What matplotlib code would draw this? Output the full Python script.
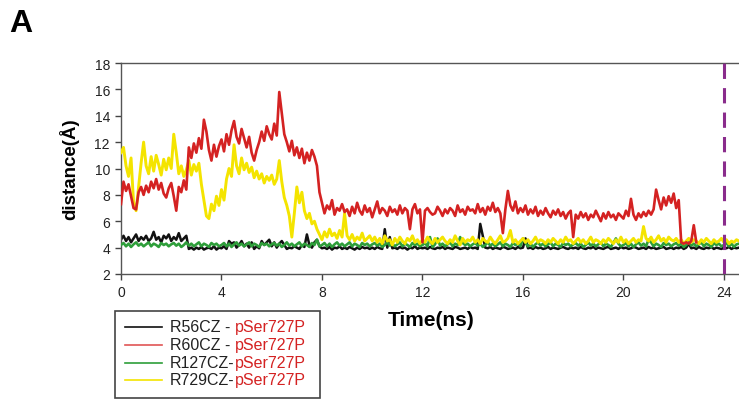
import numpy as np
import matplotlib
matplotlib.use("Agg")
import matplotlib.pyplot as plt
from matplotlib.lines import Line2D
from matplotlib.patches import Rectangle

plt.rcParams['font.family'] = ['Liberation Sans', 'DejaVu Sans']

# ---------------- data (distance in Angstrom, sampled every 0.1 ns) ----------------
time_step = 0.1

red_values = [
    7.3, 9.0, 8.3, 8.8, 7.9, 7.0, 6.9, 8.2, 8.6, 8.0,
    8.7, 8.2, 9.0, 8.5, 9.2, 8.4, 8.9, 8.1, 7.8, 8.5,
    8.9, 7.9, 6.8, 8.6, 8.2, 9.1, 8.4, 11.6, 10.8, 11.9,
    11.2, 12.3, 11.5, 13.7, 12.8, 11.4, 10.6, 11.8, 10.9, 11.7,
    12.2, 11.3, 12.6, 11.8, 12.9, 13.6, 12.4, 11.9, 13.0, 12.3,
    11.6, 12.4, 11.2, 10.6, 11.4, 12.0, 12.8, 12.1, 13.2, 12.6,
    12.2, 13.4, 12.5, 15.8, 14.2, 12.6, 12.0, 11.3, 12.1, 11.0,
    11.6, 10.8, 11.5, 10.4, 11.2, 10.6, 11.4, 10.9, 10.2, 8.2,
    7.4, 6.6, 7.2, 6.9, 7.6, 6.5, 7.0, 6.8, 7.3, 6.7,
    6.9, 6.4, 7.1, 6.6, 7.4, 6.8, 6.5, 7.2, 6.7, 7.0,
    6.3, 6.9, 7.5, 6.6, 7.0, 6.8, 6.4, 7.1, 6.7, 6.9,
    6.5, 7.2, 6.6, 7.0, 6.8, 5.4, 6.9, 7.3, 6.6, 6.9,
    4.4, 6.8, 7.0, 6.7, 6.5, 6.6, 7.1, 6.8, 6.4, 6.9,
    6.6, 7.0, 6.8, 6.4, 7.2, 6.7, 6.9, 6.5, 7.1, 6.8,
    6.9, 6.6, 7.3, 6.7, 7.0, 6.5, 7.1, 6.8, 7.4, 6.7,
    7.0, 6.6, 5.1, 6.9, 8.3, 7.2, 6.8, 7.5, 6.6, 7.0,
    6.7, 7.2, 6.5, 6.9, 6.6, 7.1, 6.4, 6.8, 6.5, 7.0,
    6.6, 6.3, 6.8, 6.5, 6.9, 6.4, 6.7, 6.2, 6.6, 6.8,
    4.8, 6.5, 6.2, 6.7, 6.3, 6.6, 6.1, 6.5, 6.3, 6.8,
    6.4, 6.0, 6.6, 6.2, 6.7, 6.3, 6.5, 6.1, 6.6, 6.4,
    6.2, 6.8, 6.4, 7.7, 6.5, 6.1, 6.6, 6.3, 6.7, 6.4,
    6.8, 6.5, 6.9, 8.4, 7.6, 6.9, 7.8, 7.2, 7.9, 7.4,
    8.1, 7.0, 7.6, 4.4, 4.3, 4.4, 4.3, 4.5, 5.7, 4.4,
]

yellow_values = [
    11.2, 11.6, 10.2, 9.4, 10.8, 7.4, 6.8, 8.6, 10.4, 12.0,
    10.2, 9.6, 10.9, 9.8, 11.0, 10.3, 9.5, 10.7, 9.9, 10.8,
    10.0, 12.6, 11.2, 9.6, 10.2, 9.4, 9.9, 10.6, 9.5, 10.3,
    9.8, 10.4, 8.8, 7.6, 6.4, 6.2, 7.3, 6.8, 7.9, 7.2,
    8.4, 7.6, 9.2, 10.0, 9.4, 11.8, 10.2, 9.6, 10.8, 9.9,
    10.4, 9.7, 10.1, 9.3, 9.8, 9.2, 9.6, 8.9, 9.4, 9.1,
    9.5, 8.8, 9.2, 10.6, 9.0, 7.8, 7.2, 6.4, 4.8, 6.6,
    8.6, 7.4, 8.2, 6.8, 6.2, 6.6, 5.8, 6.0, 5.4, 5.0,
    4.6, 5.2, 4.8, 5.4, 4.9, 5.1, 4.7, 5.3, 4.8, 6.6,
    4.9, 4.6, 5.0, 4.5, 4.8, 4.6, 5.1, 4.5, 4.7, 4.9,
    4.5, 4.8, 4.4, 4.7, 4.3, 4.9, 4.5, 4.6, 4.2, 4.7,
    4.4, 4.8, 4.5, 4.3, 4.7, 4.5, 4.9, 4.4, 4.6, 4.3,
    4.6, 4.4, 4.8, 4.5, 4.3, 4.7, 4.4, 4.6, 4.8, 4.5,
    4.3, 4.6, 4.4, 4.9, 4.5, 4.2, 4.7, 4.4, 4.6, 4.5,
    4.8, 4.4, 4.6, 4.3, 4.7, 4.5, 4.4, 4.8, 4.5, 4.3,
    4.6, 4.9, 4.4, 4.5, 4.7, 5.3, 4.4, 4.6, 4.3, 4.5,
    4.7, 4.4, 4.6, 4.3, 4.5, 4.8, 4.4, 4.6, 4.5, 4.3,
    4.6, 4.4, 4.7, 4.5, 4.3, 4.6, 4.4, 4.8, 4.5, 4.6,
    4.3, 4.5, 4.7, 4.4, 4.6, 4.3, 4.5, 4.8, 4.4, 4.6,
    4.5, 4.3, 4.6, 4.4, 4.7, 4.5, 4.3, 4.6, 4.4, 4.8,
    4.4, 4.6, 4.3, 4.5, 4.7, 4.4, 4.6, 4.5, 5.6, 4.7,
    4.5, 4.8, 4.4, 4.6, 4.9, 4.5, 4.7, 4.4, 4.8, 4.6,
    4.5, 4.7, 4.4, 4.6, 4.3, 4.5, 4.7, 4.4, 4.6, 4.5,
    4.3, 4.6, 4.4, 4.7, 4.5, 4.3, 4.6, 4.4, 4.5, 4.7,
    4.4, 4.6, 4.3, 4.5, 4.4, 4.6, 4.5,
]

black_values = [
    4.6, 4.9, 4.5, 4.8, 4.4, 4.7, 5.0, 4.5, 4.8, 4.6,
    4.9, 4.5, 4.7, 5.2, 4.6, 4.8, 4.4, 4.9, 4.7, 5.0,
    4.5, 4.8, 4.6, 5.1, 4.5, 4.7, 4.9, 3.9, 4.0, 3.85,
    4.0, 3.9, 4.05, 3.85, 3.95, 4.0, 3.9, 4.1, 3.85, 4.0,
    3.95, 4.1, 3.9, 4.5, 4.3, 4.4, 4.0, 4.2, 4.5, 4.1,
    4.3, 4.0, 4.4, 3.9, 4.1, 3.95, 4.5, 4.2, 4.4, 4.6,
    4.1, 4.4, 4.0, 4.3, 4.5, 4.2, 3.9, 4.0, 3.95, 4.1,
    4.0, 3.9, 4.2, 4.05, 5.0, 4.2, 4.0, 4.4, 4.6, 4.1,
    3.95, 4.0, 3.9, 4.05, 3.85, 4.0, 3.95, 4.1, 3.9, 4.0,
    3.9, 4.05, 3.95, 3.85, 4.0, 3.9, 4.05, 3.95, 4.0, 3.9,
    4.0, 3.9, 4.05, 3.95, 3.9, 5.4, 4.0, 4.8, 3.95, 4.0,
    3.9, 4.05, 3.95, 4.0, 3.85, 4.0, 3.95, 4.1, 3.9, 4.0,
    3.95, 4.0, 3.9, 4.05, 3.95, 3.9, 4.0, 3.95, 4.05, 3.9,
    4.0, 3.95, 3.9, 4.05, 4.0, 3.9, 3.95, 4.0, 3.9, 4.05,
    3.95, 4.0, 3.9, 5.8, 4.9, 4.0, 3.95, 4.05, 3.9, 4.0,
    3.95, 3.9, 4.05, 4.0, 3.9, 3.95, 4.0, 3.9, 4.05, 3.95,
    4.0, 4.7, 3.95, 4.0, 3.9, 4.05, 3.95, 4.0, 3.9, 3.95,
    4.05, 3.9, 4.0, 3.95, 3.9, 4.0, 4.05, 3.95, 3.9, 4.0,
    3.95, 4.0, 3.9, 4.05, 3.95, 3.9, 4.0, 3.95, 4.05, 3.9,
    4.0, 3.95, 3.9, 4.0, 4.05, 3.9, 3.95, 4.0, 3.9, 4.05,
    3.95, 4.0, 3.9, 3.95, 4.05, 4.0, 3.9, 3.95, 4.0, 3.9,
    4.05, 3.95, 4.0, 3.9, 3.95, 4.0, 4.05, 3.9, 3.95, 4.0,
    3.9, 4.0, 3.95, 4.05, 3.9, 4.0, 4.3, 3.95, 4.0, 3.9,
    4.05, 3.95, 3.9, 4.0, 3.95, 4.05, 3.9, 4.0, 3.95, 3.9,
    4.0, 3.95, 4.05, 3.9, 4.0, 3.95, 4.0,
]

green_values = [
    4.2, 4.35, 4.1, 4.3, 4.05, 4.25, 4.4, 4.15, 4.3, 4.1,
    4.25, 4.4, 4.1, 4.3, 4.2, 4.05, 4.35, 4.2, 4.3, 4.1,
    4.25, 4.35, 4.15, 4.3, 4.05, 4.2, 4.4, 4.15, 4.3, 4.1,
    4.25, 4.4, 4.1, 4.3, 4.2, 4.05, 4.35, 4.2, 4.3, 4.1,
    4.2, 4.35, 4.1, 4.3, 4.05, 4.25, 4.4, 4.15, 4.3, 4.1,
    4.25, 4.4, 4.1, 4.3, 4.2, 4.05, 4.35, 4.2, 4.3, 4.1,
    4.25, 4.35, 4.15, 4.3, 4.05, 4.2, 4.4, 4.15, 4.3, 4.1,
    4.25, 4.4, 4.1, 4.3, 4.2, 4.05, 4.35, 4.2, 4.6, 4.1,
    4.2, 4.35, 4.1, 4.3, 4.05, 4.25, 4.4, 4.15, 4.3, 4.1,
    4.25, 4.4, 4.1, 4.3, 4.2, 4.05, 4.35, 4.2, 4.3, 4.1,
    4.25, 4.35, 4.15, 4.3, 4.05, 4.2, 4.4, 4.15, 4.3, 4.1,
    4.25, 4.4, 4.1, 4.3, 4.2, 4.05, 4.35, 4.2, 4.3, 4.1,
    4.2, 4.35, 4.1, 4.8, 4.05, 4.25, 4.7, 4.15, 4.3, 4.1,
    4.25, 4.4, 4.1, 4.3, 4.2, 4.8, 4.35, 4.2, 4.3, 4.1,
    4.25, 4.35, 4.15, 4.3, 4.05, 4.2, 4.4, 4.15, 4.3, 4.1,
    4.25, 4.4, 4.1, 4.3, 4.2, 4.05, 4.35, 4.2, 4.3, 4.1,
    4.7, 4.35, 4.1, 4.3, 4.05, 4.25, 4.4, 4.15, 4.3, 4.1,
    4.25, 4.4, 4.1, 4.3, 4.2, 4.05, 4.35, 4.2, 4.3, 4.1,
    4.25, 4.35, 4.15, 4.3, 4.05, 4.2, 4.4, 4.15, 4.3, 4.1,
    4.25, 4.4, 4.1, 4.3, 4.2, 4.05, 4.35, 4.7, 4.3, 4.1,
    4.2, 4.35, 4.1, 4.3, 4.05, 4.25, 4.4, 4.15, 4.3, 4.1,
    4.6, 4.4, 4.1, 4.3, 4.2, 4.05, 4.35, 4.2, 4.3, 4.1,
    4.25, 4.35, 4.15, 4.3, 4.05, 4.2, 4.4, 4.15, 4.3, 4.1,
    4.25, 4.4, 4.1, 4.3, 4.2, 4.05, 4.35, 4.2, 4.3, 4.1,
    4.2, 4.35, 4.1, 4.3, 4.05, 4.25, 4.3,
]

series_black = ["R56CZ -", " pSer727P"]
series_red = ["R60CZ -", " pSer727P"]
series_green = ["R127CZ-", "pSer727P"]
series_yellow = ["R729CZ-", "pSer727P"]

x_ticks = [0, 4, 8, 12, 16, 20, 24]
y_ticks = [2, 4, 6, 8, 10, 12, 14, 16, 18]
marker_time = 24

# ---------------- figure ----------------
W, H = 739, 402
fig = plt.figure(figsize=(W / 100, H / 100), dpi=100)
fig.patch.set_facecolor('white')

ax_left, ax_right, ax_top, ax_bottom = 121, 739, 64, 275
ax = fig.add_axes([ax_left / W, 1 - ax_bottom / H,
                   (ax_right - ax_left) / W, (ax_bottom - ax_top) / H])

def times(vals):
    return np.arange(len(vals)) * time_step

c_black = '#111111'
c_green = '#2e9e3a'
c_yellow = '#f4e400'
c_red = '#d42222'

ax.plot(times(black_values), black_values, color=c_black, lw=1.8, zorder=2)
ax.plot(times(green_values), green_values, color=c_green, lw=1.9, zorder=3)
ax.plot(times(yellow_values), yellow_values, color=c_yellow, lw=2.1, zorder=4)
ax.plot(times(red_values), red_values, color=c_red, lw=1.9, zorder=5)

ax.axvline(marker_time, color='#8a2c8c', lw=2.2, dashes=(5, 3), zorder=6)

ax.set_xlim(0, 24.6)
ax.set_ylim(2, 18)
ax.set_xticks(x_ticks)
ax.set_yticks(y_ticks)
ax.tick_params(direction='out', length=4, width=1, colors='#444444',
               labelsize=10, labelcolor='#222222', pad=4)
for s in ['left', 'bottom', 'top']:
    ax.spines[s].set_color('#555555')
    ax.spines[s].set_linewidth(1.0)
ax.spines['right'].set_visible(False)

ax.set_xlabel('Time(ns)', fontsize=15, fontweight='bold')
ax.xaxis.set_label_coords((431 - ax_left) / (ax_right - ax_left), -(311 - ax_bottom) / (ax_bottom - ax_top))
ax.set_ylabel('distance(Å)', fontsize=13.5, fontweight='bold')
ax.yaxis.set_label_coords(-(ax_left - 79) / (ax_right - ax_left), 0.5)

fig.text(9 / W, 1 - 9 / H, 'A', fontsize=23, fontweight='bold', va='top', ha='left')

# ---------------- legend (drawn by hand for two-colour labels) ----------------
box_l, box_t, box_r, box_b = 115, 312, 320, 399
fig.patches.append(Rectangle((box_l / W, 1 - box_b / H), (box_r - box_l) / W,
                             (box_b - box_t) / H, transform=fig.transFigure,
                             fill=False, edgecolor='#444444', lw=1.2))
rows = [(series_black, c_black), (series_red, '#e05555'),
        (series_green, c_green), (series_yellow, c_yellow)]
row_y = [328, 346, 364, 381]
for (labels, col), yy in zip(rows, row_y):
    yf = 1 - yy / H
    fig.lines.append(Line2D([125 / W, 162 / W], [yf, yf], transform=fig.transFigure,
                            color=col, lw=1.2))
    t1 = fig.text(170 / W, yf, labels[0], fontsize=11.5, color='#222222',
                  va='center', ha='left')
    ax.annotate(labels[1].strip(), xy=(1, 0.5), xycoords=t1,
                xytext=(3 if labels[1].startswith(' ') else 0, 0),
                textcoords='offset points', fontsize=11.5, color='#d42222',
                va='center', ha='left', annotation_clip=False)

fig.savefig('out.png', dpi=100)
